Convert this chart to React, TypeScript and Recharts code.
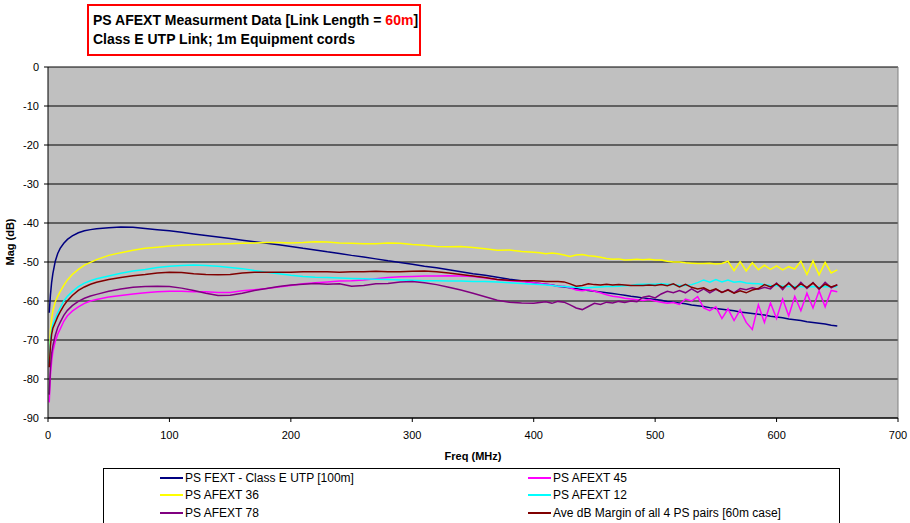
import React from 'react';
import { LineChart, Line, XAxis, YAxis, CartesianGrid, ReferenceLine } from 'recharts';

const FONT = "'Liberation Sans', Arial, sans-serif";

// Frequency grid (MHz)
const freq = [
  1, 2, 3, 4, 6, 8, 10, 13, 16, 20, 25, 30, 35,
  40, 50, 60, 70, 80, 90, 100, 110, 120, 130,
  140, 150, 160, 170, 180, 190, 200, 210, 220, 230,
  240, 250, 260, 270, 280, 290, 300, 310, 320, 330,
  340, 350, 360, 370, 380, 390, 400,
  405, 410, 415, 420, 425, 430, 435, 440, 445, 450,
  455, 460, 465, 470, 475, 480, 485, 490, 495, 500,
  505, 510, 515, 520, 525, 530, 535, 540, 545, 550,
  555, 560, 565, 570, 575, 580, 585, 590, 595, 600,
  605, 610, 615, 620, 625, 630, 635, 640, 645, 650,
];

const fext100 = [
  -63, -58.5, -55.2, -53, -49.8, -47.8, -46.5, -45.2, -44.2, -43.3, -42.5, -42.0, -41.7,
  -41.5, -41.2, -41.0, -41.1, -41.4, -41.7, -42.0, -42.4, -42.8, -43.2,
  -43.6, -44.0, -44.4, -44.8, -45.2, -45.6, -46.0, -46.5, -46.9, -47.4,
  -47.8, -48.3, -48.7, -49.2, -49.7, -50.1, -50.6, -51.1, -51.5, -52.0,
  -52.5, -53.0, -53.4, -53.9, -54.4, -54.8, -55.3,
  -55.5, -55.7, -55.9, -56.2, -56.4, -56.6, -56.8, -57.1, -57.3, -57.5,
  -57.7, -57.9, -58.1, -58.3, -58.5, -58.8, -59.0, -59.2, -59.4, -59.6,
  -59.8, -60.1, -60.3, -60.5, -60.7, -61.0, -61.2, -61.4, -61.7, -61.9,
  -62.1, -62.3, -62.5, -62.8, -63.0, -63.2, -63.4, -63.6, -63.9, -64.1,
  -64.3, -64.6, -64.8, -65.0, -65.3, -65.5, -65.7, -65.9, -66.2, -66.4,
];

const afext45 = [
  -86, -79, -75.5, -73, -70.3, -68.5, -67.2, -65.2, -63.8, -62.6, -61.5, -60.6, -60.0,
  -59.6, -59.0, -58.6, -58.2, -57.9, -57.6, -57.5, -57.5, -57.6, -57.6,
  -57.8, -57.8, -57.4, -57.1, -56.8, -56.4, -56.0, -55.6, -55.3, -55.1,
  -54.9, -54.8, -54.6, -54.3, -54.0, -53.8, -53.7, -53.6, -53.6, -53.5,
  -53.6, -53.7, -54.1, -54.5, -54.8, -55.0, -55.3,
  -55.5, -55.7, -55.9, -56.3, -56.2, -56.6, -57.2, -57.4, -57.1, -57.5,
  -57.9, -58.4, -58.8, -59.0, -59.3, -59.5, -59.7, -59.9, -59.6, -60.0,
  -60.3, -60.6, -60.4, -60.9, -59.5, -60.0, -58.9, -61.8, -62.5, -61.5,
  -64.5, -62.0, -65.0, -62.3, -65.5, -67.3, -61.0, -65.5, -60.5, -64.5,
  -59.5, -63.8, -58.8, -62.5, -58.0, -61.8, -57.4, -61.5, -57.3, -57.6,
];

const afext36 = [
  -75, -67.5, -64.5, -62.5, -60.2, -58.8, -57.6, -56.0, -54.6, -53.2, -51.9, -50.8, -50.1,
  -49.4, -48.3, -47.6, -47.0, -46.5, -46.2, -45.9, -45.7, -45.6, -45.5,
  -45.4, -45.3, -45.2, -45.1, -45.0, -45.0, -45.1, -45.0, -44.8, -44.9,
  -45.1, -45.2, -45.3, -45.3, -45.1, -45.2, -45.5, -45.7, -46.0, -46.1,
  -46.0, -46.3, -46.6, -47.0, -46.9, -47.3, -47.5,
  -47.6, -47.9, -47.7, -47.9, -48.2, -48.6, -48.2, -48.1, -48.4, -48.5,
  -48.8, -49.1, -49.3, -49.2, -49.5, -49.4, -49.3, -49.4, -49.3, -49.5,
  -49.5, -49.8, -50.0, -50.0, -50.2, -50.3, -50.4, -50.4, -50.3, -50.5,
  -50.4, -49.8, -52.2, -49.9, -52.3, -50.2, -52.0, -50.8, -51.9, -51.0,
  -52.0, -51.2, -51.8, -49.8, -53.2, -49.7, -53.3, -50.1, -52.8, -52.0,
];

const afext12 = [
  -76, -70, -67.5, -66, -64.5, -63, -61.8, -60.0, -58.8, -57.6, -56.3, -55.4, -54.8,
  -54.3, -53.6, -52.9, -52.3, -51.9, -51.4, -51.1, -50.9, -50.8, -50.9,
  -51.1, -51.4, -51.7, -52.2, -52.6, -53.0, -53.4, -53.7, -53.9, -54.0,
  -54.1, -54.2, -54.3, -54.4, -54.5, -54.6, -54.7, -54.8, -54.8, -54.9,
  -54.9, -55.0, -55.0, -55.1, -55.3, -55.5, -55.7,
  -55.8, -55.9, -56.0, -56.2, -56.3, -56.4, -56.5, -56.6, -56.6, -56.5,
  -56.4, -56.3, -56.3, -56.2, -56.1, -56.0, -55.8, -55.7, -55.7, -55.7,
  -55.6, -55.7, -55.8, -56.0, -56.0, -55.8, -55.3, -54.6, -55.2, -54.5,
  -55.1, -54.6, -55.2, -55.0, -55.4, -55.5, -55.6, -55.8, -56.0, -56.1,
  -56.2, -56.3, -56.3, -56.3, -56.4, -56.3, -56.4, -56.3, -56.4, -56.3,
];

const afext78 = [
  -84, -77, -73.5, -71.5, -68.8, -66.8, -65.5, -63.7, -62.4, -61.2, -60.1, -59.3, -58.7,
  -58.3, -57.5, -56.9, -56.5, -56.3, -56.2, -56.3, -56.7, -57.3, -58.0,
  -58.6, -58.5, -58.0, -57.3, -56.8, -56.3, -55.9, -55.7, -55.5, -55.7,
  -55.6, -56.2, -56.0, -55.6, -55.5, -55.1, -55.0, -55.3, -55.8, -56.5,
  -57.2, -58.0, -58.9, -59.8, -60.3, -60.5, -60.6,
  -60.4, -60.2, -60.6, -60.1, -60.3, -61.0, -61.8, -62.2, -61.4, -60.6,
  -60.9, -60.3, -60.5, -60.1, -60.4, -60.0, -60.2, -59.0, -58.7, -59.2,
  -58.2, -57.5, -57.9, -57.3, -57.9, -56.9, -57.8, -56.9, -57.9, -57.0,
  -57.8, -57.1, -57.9, -56.8, -57.1, -56.6, -57.0, -56.5, -56.9, -55.4,
  -57.1, -55.3, -57.0, -55.2, -56.8, -55.3, -57.0, -55.2, -56.6, -55.8,
];

const aveMargin = [
  -77, -71.5, -68.5, -67, -65.5, -64, -62.8, -61.2, -59.9, -58.6, -57.3, -56.4, -55.7,
  -55.2, -54.5, -54.0, -53.5, -53.2, -52.8, -52.6, -52.7, -53.0, -53.2,
  -53.3, -53.2, -52.8, -52.6, -52.6, -52.6, -52.6, -52.5, -52.5, -52.5,
  -52.6, -52.5, -52.5, -52.4, -52.5, -52.5, -52.4, -52.3, -52.5, -52.8,
  -53.2, -53.6, -54.0, -54.5, -54.7, -54.8, -54.8,
  -54.9, -55.0, -55.0, -55.0, -55.1, -55.6, -56.2, -56.0, -55.6, -55.8,
  -55.9, -55.7, -55.9, -55.8, -55.9, -56.0, -56.0, -56.0, -55.9, -56.0,
  -55.8, -56.1, -55.6, -56.4, -55.7, -56.5, -56.9, -56.6, -57.4, -56.9,
  -57.8, -57.2, -58.0, -57.4, -57.9, -57.2, -56.8, -55.8, -56.4, -55.6,
  -56.6, -55.5, -56.7, -55.6, -56.5, -55.4, -56.8, -55.7, -56.4, -55.9,
];

const xTicks = [0, 100, 200, 300, 400, 500, 600, 700];
const yTicks = [0, -10, -20, -30, -40, -50, -60, -70, -80, -90];

const seriesList = [
  { key: 'fext', name: 'PS FEXT - Class E UTP [100m]', values: fext100, color: '#000080' },
  { key: 'a45', name: 'PS AFEXT 45', values: afext45, color: '#FF00FF' },
  { key: 'a36', name: 'PS AFEXT 36', values: afext36, color: '#FFFF00' },
  { key: 'a12', name: 'PS AFEXT 12', values: afext12, color: '#00FFFF' },
  { key: 'a78', name: 'PS AFEXT 78', values: afext78, color: '#800080' },
  { key: 'ave', name: 'Ave dB Margin of all 4 PS pairs [60m case]', values: aveMargin, color: '#800000' },
];

const data = freq.map((f, i) => {
  const row: Record<string, number> = { f };
  seriesList.forEach((s) => {
    row[s.key] = s.values[i];
  });
  return row;
});

const tickStyle = { fill: '#000', fontSize: 11, fontFamily: FONT };

export default function App() {
  return (
    <div style={{ position: 'absolute', left: 0, top: 0, width: 910, height: 523, background: '#fff', fontFamily: FONT }}>
      <LineChart width={910} height={523} data={data} margin={{ top: 67, right: 12, bottom: 0, left: 0 }}>
        <CartesianGrid vertical={false} stroke="#000" fill="#C0C0C0" fillOpacity={1} />
        <XAxis
          dataKey="f"
          type="number"
          domain={[0, 700]}
          ticks={xTicks}
          interval={0}
          height={105}
          tickSize={4}
          tickMargin={9}
          stroke="#000"
          tick={tickStyle}
          label={{
            content: () => (
              <text x={473} y={460} textAnchor="middle" fill="#000" style={{ fontSize: 11, fontWeight: 'bold', fontFamily: FONT }}>
                Freq (MHz)
              </text>
            ),
          }}
        />
        <YAxis
          type="number"
          domain={[-90, 0]}
          ticks={yTicks}
          interval={0}
          width={48}
          tickSize={4}
          tickMargin={5}
          stroke="#000"
          tick={tickStyle}
          label={{
            content: () => (
              <text x={14} y={242} transform="rotate(-90 14 242)" textAnchor="middle" fill="#000" style={{ fontSize: 11, fontWeight: 'bold', fontFamily: FONT }}>
                Mag (dB)
              </text>
            ),
          }}
        />
        <ReferenceLine x={700} stroke="#808080" strokeWidth={1} />
        {seriesList.map((s) => (
          <Line
            key={s.key}
            dataKey={s.key}
            name={s.name}
            type="linear"
            stroke={s.color}
            strokeWidth={1.5}
            dot={false}
            activeDot={false}
            isAnimationActive={false}
          />
        ))}
      </LineChart>

      {/* Title box */}
      <div
        style={{
          position: 'absolute',
          left: 87,
          top: 4,
          width: 334,
          height: 52,
          boxSizing: 'border-box',
          border: '2px solid #FF0000',
          background: '#fff',
          paddingTop: 5,
          paddingLeft: 4,
          fontWeight: 'bold',
          fontSize: 14,
          lineHeight: '18.5px',
          color: '#000',
          whiteSpace: 'nowrap',
        }}
      >
        <div>
          PS AFEXT Measurment Data [Link Length = <span style={{ color: '#FF0000' }}>60m</span>]
        </div>
        <div>Class E UTP Link; 1m Equipment cords</div>
      </div>

      {/* Legend */}
      <div
        style={{
          position: 'absolute',
          left: 103,
          top: 468,
          width: 737,
          height: 55,
          boxSizing: 'border-box',
          border: '1px solid #000',
          borderBottom: 'none',
          background: '#fff',
        }}
      >
        {seriesList.map((s, i) => {
          const row = Math.floor(i / 2);
          const col = i % 2;
          const left = col === 0 ? 56 : 424;
          const top = row * 17.6;
          return (
            <div
              key={s.key}
              style={{
                position: 'absolute',
                left,
                top,
                height: 17.6,
                display: 'flex',
                alignItems: 'center',
                whiteSpace: 'nowrap',
                fontSize: 12,
                color: '#000',
              }}
            >
              <span style={{ display: 'inline-block', width: 23, height: 2, background: s.color, marginRight: 2 }} />
              <span>{s.name}</span>
            </div>
          );
        })}
      </div>
    </div>
  );
}
